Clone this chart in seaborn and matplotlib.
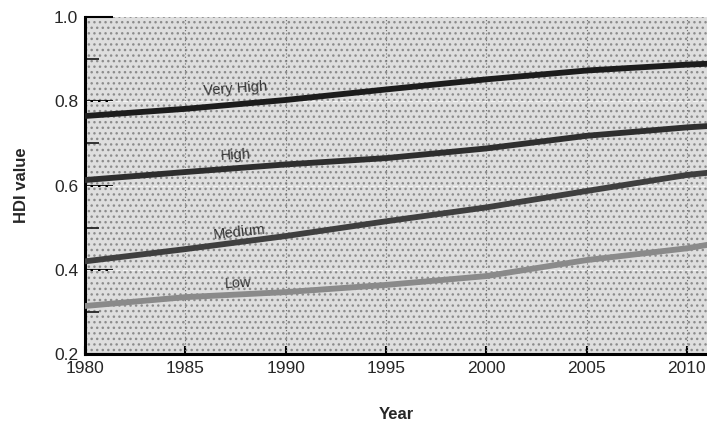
import numpy as np
import pandas as pd
import matplotlib
matplotlib.use('Agg')
import matplotlib.pyplot as plt
import seaborn as sns
from matplotlib.patches import Rectangle

# HDI values by development group
years = [1980, 1985, 1990, 1995, 2000, 2005, 2010, 2011]
very_high = [0.765, 0.782, 0.803, 0.828, 0.852, 0.873, 0.887, 0.889]
high = [0.613, 0.632, 0.650, 0.665, 0.688, 0.718, 0.738, 0.741]
medium = [0.420, 0.449, 0.480, 0.515, 0.548, 0.587, 0.625, 0.630]
low = [0.314, 0.335, 0.347, 0.364, 0.385, 0.423, 0.451, 0.459]

groups = ['Very High', 'High', 'Medium', 'Low']
colors = ['#1c1c1c', '#2e2e2e', '#3f3f3f', '#8a8a8a']

# label anchor points (year, value) and rotation
label_x = [1987.5, 1987.5, 1987.7, 1987.6]
label_y = [0.829, 0.673, 0.488, 0.369]
label_rot = [4, 3, 6, 3]

x_ticks = [1980, 1985, 1990, 1995, 2000, 2005, 2010]
y_ticks = [0.2, 0.4, 0.6, 0.8, 1.0]
y_minor = [0.3, 0.5, 0.7, 0.9]


def main():
    df = pd.DataFrame({
        'Year': years * 4,
        'HDI': very_high + high + medium + low,
        'group': sum([[g] * len(years) for g in groups], []),
    })

    sns.set_style('ticks')
    plt.rcParams['font.family'] = ['Liberation Sans', 'DejaVu Sans']

    fig = plt.figure(figsize=(7.07, 4.21), dpi=100)
    ax = fig.add_axes([0.1202, 0.1591, 0.8798, 0.8005])
    ax.set_facecolor('#dedede')

    # stipple texture
    ax.add_patch(Rectangle((0, 0), 1, 1, transform=ax.transAxes, facecolor='none',
                           edgecolor='#8c8c8c', hatch='...', linewidth=0, zorder=0.5))
    for gx in x_ticks[1:]:
        ax.axvline(gx, color='#707070', lw=0.8, ls=(0, (1, 2)), zorder=1)
    for gy in [0.4, 0.6, 0.8]:
        ax.axhline(gy, color='#f2f2f2', lw=0.9, ls=(0, (4, 2)), zorder=1)

    sns.lineplot(data=df, x='Year', y='HDI', hue='group', hue_order=groups,
                 palette=dict(zip(groups, colors)), lw=4.2, legend=False,
                 ax=ax, zorder=3)

    for g, lx, ly, r in zip(groups, label_x, label_y, label_rot):
        ax.text(lx, ly, g, ha='center', va='center', rotation=r,
                fontsize=10.5, color='#333333', zorder=4)

    ax.set_xlim(1980, 2011)
    ax.set_ylim(0.2, 1.0)
    ax.set_xticks(x_ticks)
    ax.set_yticks(y_ticks)
    ax.set_yticks(y_minor, minor=True)
    ax.set_yticklabels([f'{v:.1f}' for v in y_ticks])
    ax.tick_params(axis='both', which='major', direction='in', labelsize=12.5,
                   width=1.5, color='black', pad=5)
    ax.tick_params(axis='y', which='major', length=20)
    ax.tick_params(axis='x', which='major', length=6)
    ax.tick_params(axis='y', which='minor', direction='in', length=10, width=1.3)

    for side in ['top', 'right']:
        ax.spines[side].set_visible(False)
    for side in ['left', 'bottom']:
        ax.spines[side].set_linewidth(2.2)
        ax.spines[side].set_color('black')

    ax.set_xlabel('Year', fontsize=12, fontweight='bold', labelpad=22)
    ax.set_ylabel('HDI value', fontsize=12, fontweight='bold', labelpad=18)

    fig.savefig('out.png', dpi=100)


if __name__ == '__main__':
    main()
